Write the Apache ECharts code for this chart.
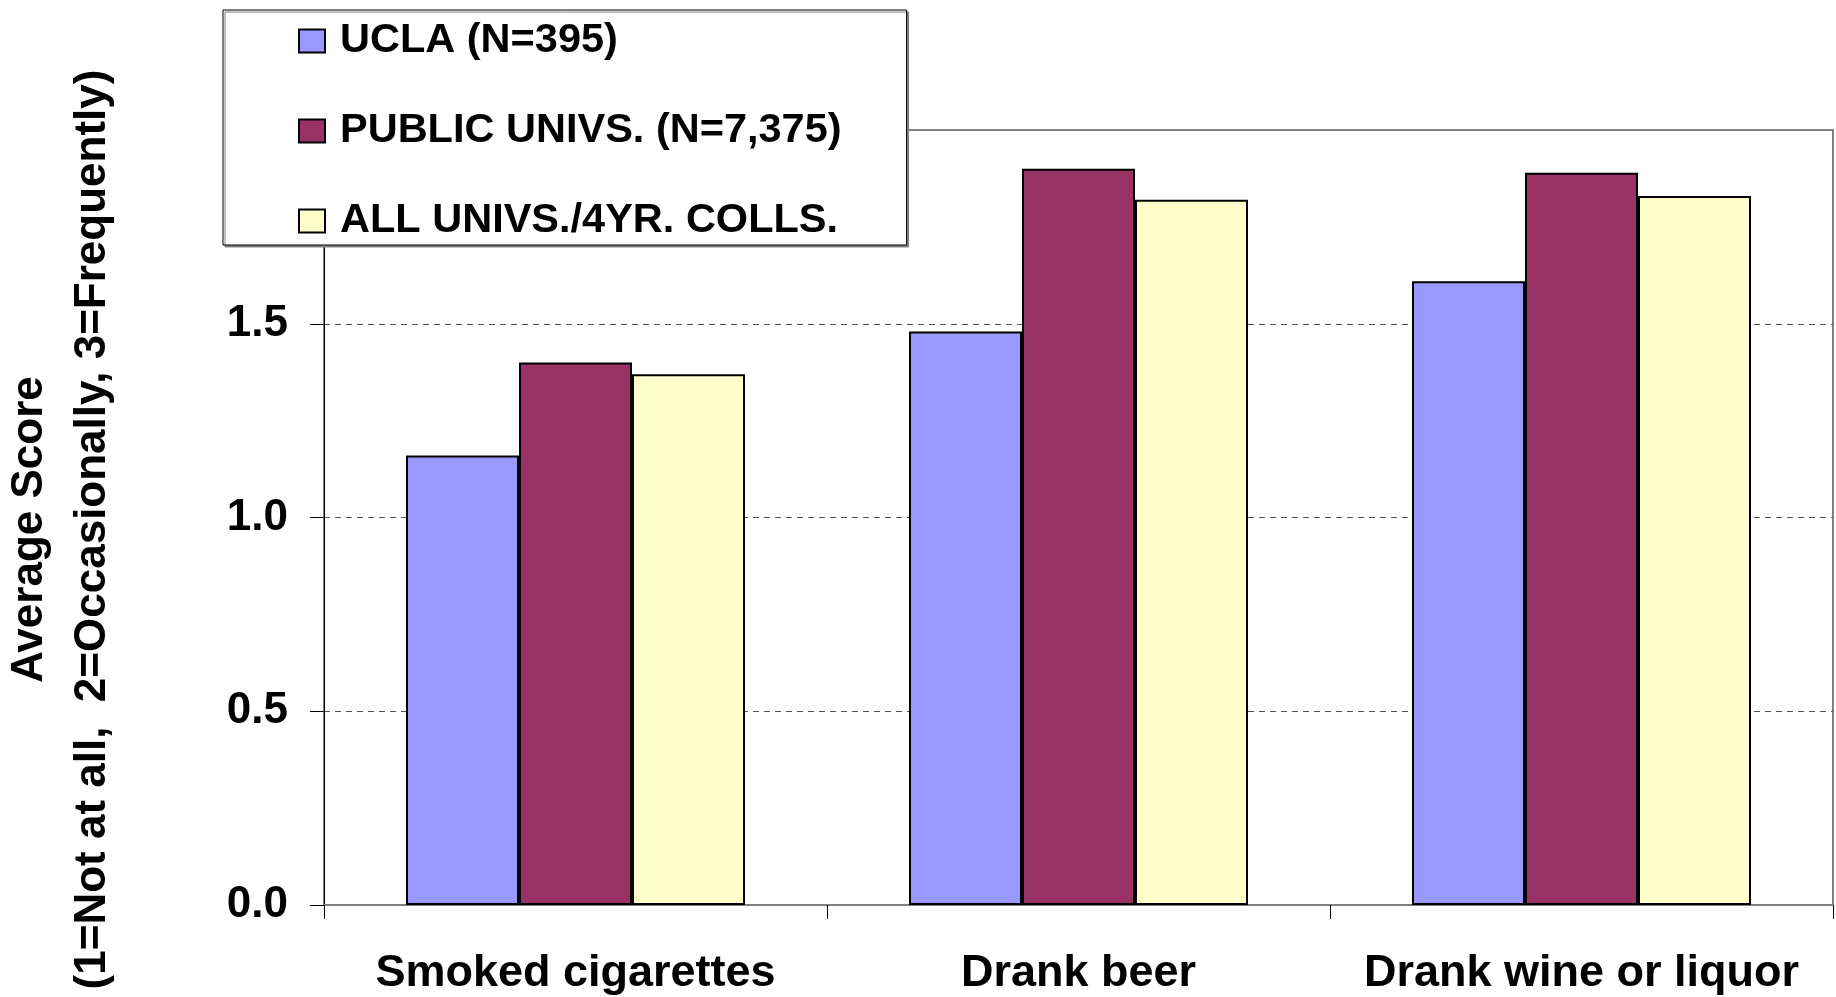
<!DOCTYPE html>
<html>
<head>
<meta charset="utf-8">
<script src="https://cdn.jsdelivr.net/npm/echarts@6/dist/echarts.min.js"></script>
<style>
html,body{margin:0;padding:0;background:#fff;}
#chart{width:1836px;height:997px;}
</style>
</head>
<body>
<div id="chart"></div>
<script>
const categories = ['Smoked cigarettes', 'Drank beer', 'Drank wine or liquor'];
const seriesNames = ['UCLA (N=395)', 'PUBLIC UNIVS. (N=7,375)', 'ALL UNIVS./4YR. COLLS.'];
const uclaValues = [1.16, 1.48, 1.61];
const publicValues = [1.40, 1.90, 1.89];
const allValues = [1.37, 1.82, 1.83];
const yTicks = [0.0, 0.5, 1.0, 1.5, 2.0];
const yTitle = 'Average Score\n(1=Not at all,  2=Occasionally, 3=Frequently)';

const FONT = '"Liberation Sans", Arial, sans-serif';
const colors = ['#9999FF', '#993366', '#FFFFCC'];
const values = [uclaValues, publicValues, allValues];

const chart = echarts.init(document.getElementById('chart'));
chart.setOption({
  backgroundColor: '#ffffff',
  animation: false,
  grid: {
    left: 324, right: 3, top: 130, bottom: 92,
    outerBoundsMode: 'none',
    containLabel: false,
    show: true, borderColor: '#808080', borderWidth: 2, backgroundColor: 'transparent'
  },
  legend: {
    orient: 'vertical',
    left: 223, top: 10,
    padding: [10, 65, 3, 75],
    itemGap: 48,
    itemWidth: 26, itemHeight: 23,
    icon: 'rect',
    backgroundColor: '#ffffff',
    borderColor: '#000000', borderWidth: 1,
    shadowColor: '#808080', shadowOffsetX: 2, shadowOffsetY: 2, shadowBlur: 0,
    itemStyle: { borderColor: '#000', borderWidth: 2 },
    textStyle: { fontFamily: FONT, fontWeight: 'bold', fontSize: 41.5, lineHeight: 41, color: '#000', padding: [0, 0, 0, 10] },
    data: seriesNames,
    z: 10
  },
  xAxis: {
    type: 'category',
    data: categories,
    axisLine: { lineStyle: { color: '#808080', width: 2 } },
    axisTick: { show: true, length: 14, lineStyle: { color: '#000', width: 1 } },
    axisLabel: { interval: 0, fontFamily: FONT, fontWeight: 'bold', fontSize: 45, color: '#000', margin: 46 },
    splitLine: { show: false }
  },
  yAxis: {
    type: 'value',
    min: yTicks[0], max: yTicks[yTicks.length - 1], interval: 0.5,
    name: yTitle,
    nameLocation: 'middle',
    nameGap: 200,
    nameRotate: 90,
    nameTextStyle: { fontFamily: FONT, fontWeight: 'bold', fontSize: 44, lineHeight: 63, color: '#000', align: 'center', padding: [0, 24, 0, 0] },
    axisLine: { show: true, lineStyle: { color: '#000', width: 1 } },
    axisTick: { show: true, length: 14, lineStyle: { color: '#000', width: 1 } },
    axisLabel: { fontFamily: FONT, fontWeight: 'bold', fontSize: 44, color: '#000', margin: 36,
      formatter: v => v.toFixed(1) },
    splitLine: { show: true, lineStyle: { color: ['#808080', '#555', '#555', '#555', '#808080'], type: [6, 5], width: 1 } }
  },
  series: seriesNames.map((n, i) => ({
    name: n,
    type: 'bar',
    data: values[i],
    barGap: '0%',
    barCategoryGap: '32.6%',
    itemStyle: { color: colors[i], borderColor: '#000', borderWidth: 2 }
  }))
});
</script>
</body>
</html>
